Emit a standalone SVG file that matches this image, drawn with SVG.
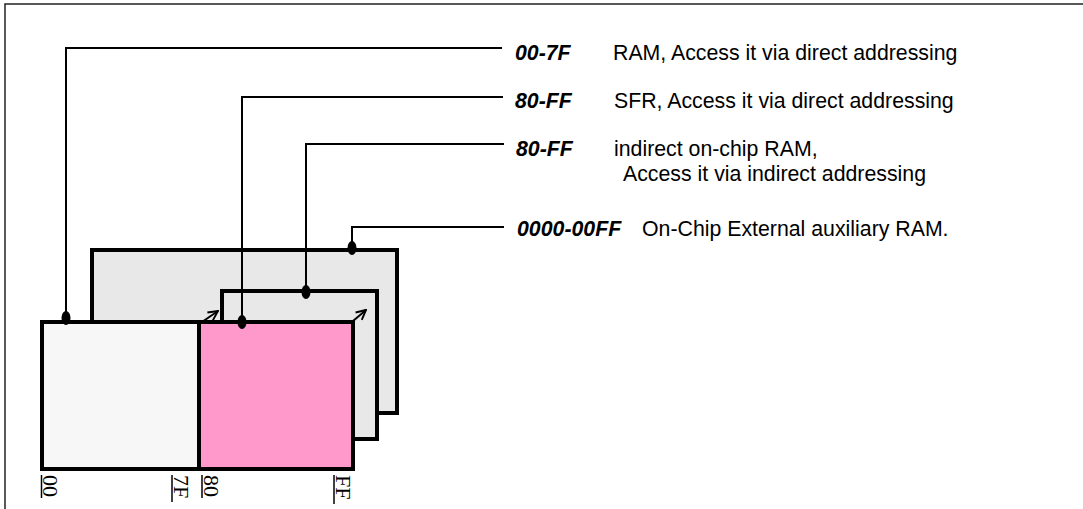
<svg xmlns="http://www.w3.org/2000/svg" width="1083" height="509" viewBox="0 0 1083 509">
<style>
.frame{fill:none;stroke:#222;stroke-width:1.5}
.box{stroke:#000;stroke-width:4}
.back{fill:#e8e8e8}
.front{fill:#f7f7f7}
.pink{fill:#ff99cc}
.conn{fill:none;stroke:#000;stroke-width:2}
.dot{fill:#000}
.code{font-family:"Liberation Sans",Arial,sans-serif;font-size:21.3px;font-weight:bold;font-style:italic;fill:#000}
.desc{font-family:"Liberation Sans",Arial,sans-serif;font-size:21.3px;fill:#000}
.addr{font-family:"Liberation Serif","Times New Roman",serif;font-size:22px;fill:#000}
.tick{stroke:#000;stroke-width:1.5}
</style>
<defs>
<marker id="open" viewBox="0 0 10 10" refX="9" refY="5" markerWidth="12" markerHeight="12" orient="auto" markerUnits="userSpaceOnUse">
<path d="M1,1 L9,5 L1,9" fill="none" stroke="#000" stroke-width="1.6"/>
</marker>
</defs>
<path class="frame" d="M5,512 V4 H1086"/>
<g id="aux-ram">
<rect class="box back" x="92" y="250" width="305" height="163"/>
</g>
<g id="indirect-ram">
<rect class="box back" x="222" y="291" width="155" height="148"/>
</g>
<g id="ram-00-7f">
<rect class="box front" x="42" y="322" width="157" height="147"/>
</g>
<g id="sfr-80-ff">
<rect class="box pink" x="199" y="322" width="154" height="147"/>
</g>
<g id="connectors">
<path class="conn" d="M66,318 V48 H502"/>
<path class="conn" d="M242,322 V97 H503"/>
<path class="conn" d="M306,292 V144 H504"/>
<path class="conn" d="M352,248 V227 H504"/>
<ellipse class="dot" cx="66" cy="318" rx="4.5" ry="7"/>
<ellipse class="dot" cx="242" cy="322" rx="4.5" ry="7"/>
<ellipse class="dot" cx="306" cy="292" rx="4.5" ry="7"/>
<ellipse class="dot" cx="352" cy="248" rx="4.5" ry="7"/>
<line class="conn" x1="202" y1="322" x2="218" y2="311" marker-end="url(#open)"/>
<line class="conn" x1="353" y1="321" x2="366" y2="310" marker-end="url(#open)"/>
</g>
<g id="labels">
<text class="code" x="515" y="60">00-7F</text>
<text class="desc" x="613" y="60">RAM, Access it via direct addressing</text>
<text class="code" x="515" y="108">80-FF</text>
<text class="desc" x="614" y="108">SFR, Access it via direct addressing</text>
<text class="code" x="516" y="156">80-FF</text>
<text class="desc" x="614" y="156">indirect on-chip RAM,</text>
<text class="desc" x="623" y="181">Access it via indirect addressing</text>
<text class="code" x="517" y="236">0000-00FF</text>
<text class="desc" x="642" y="236">On-Chip External auxiliary RAM.</text>
</g>
<g id="addresses">
<line class="tick" x1="41.5" y1="475" x2="41.5" y2="498"/>
<text class="addr" transform="translate(43,475) rotate(90)">00</text>
<line class="tick" x1="172" y1="475" x2="172" y2="502"/>
<text class="addr" transform="translate(174,475) rotate(90)">7F</text>
<line class="tick" x1="202" y1="475" x2="202" y2="498"/>
<text class="addr" transform="translate(204,475) rotate(90)">80</text>
<line class="tick" x1="334" y1="475" x2="334" y2="504"/>
<text class="addr" transform="translate(336,475) rotate(90)">FF</text>
</g>
</svg>
